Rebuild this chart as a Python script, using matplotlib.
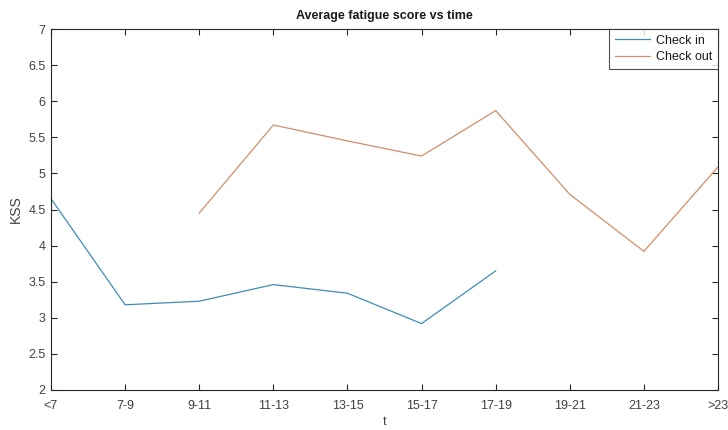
import matplotlib
matplotlib.use("Agg")
import matplotlib.pyplot as plt
import numpy as np

plt.rcParams['font.family'] = ['Liberation Sans', 'DejaVu Sans']

categories = ['<7', '7-9', '9-11', '11-13', '13-15', '15-17', '17-19', '19-21', '21-23', '>23']
check_in = [4.65, 3.18, 3.23, 3.46, 3.34, 2.92, 3.65, None, None, None]
check_out = [None, None, 4.45, 5.67, 5.45, 5.24, 5.87, 4.71, 3.92, 5.09]
yticks = [2, 2.5, 3, 3.5, 4, 4.5, 5, 5.5, 6, 6.5, 7]

def to_arr(v):
    return np.array([np.nan if x is None else x for x in v], dtype=float)

fig = plt.figure(figsize=(7.28, 4.30), dpi=100)
ax = fig.add_axes([51/728, 40/430, 667/728, 361/430])

x = np.arange(len(categories))
ax.plot(x, to_arr(check_in), color='#3f8db5', lw=0.9, label='Check in')
ax.plot(x, to_arr(check_out), color='#cf8f6c', lw=0.9, label='Check out')

ax.set_xlim(0, len(categories) - 1)
ax.set_ylim(2, 7)
ax.set_xticks(x)
ax.set_xticklabels(categories)
ax.set_yticks(yticks)
ax.set_yticklabels([f'{t:g}' for t in yticks])

tc = '#404040'
ax.tick_params(direction='in', length=4, width=0.8, top=True, right=True,
               labelsize=9, colors='#262626', labelcolor=tc, pad=3)
ax.tick_params(axis='x', pad=7)
ax.tick_params(axis='y', pad=4)
for s in ax.spines.values():
    s.set_color('#262626')
    s.set_linewidth(0.8)

ax.set_title('Average fatigue score vs time', fontsize=9, fontweight='bold', color='#1a1a1a', pad=7)
ax.set_xlabel('t', fontsize=9, color=tc, labelpad=3)
ax.set_ylabel('KSS', fontsize=10, color=tc, labelpad=4)

leg = ax.legend(loc='upper right', fontsize=9, frameon=True, fancybox=False,
                borderaxespad=0.0, handlelength=2.8, handletextpad=0.5,
                borderpad=0.45, labelspacing=0.35)
leg.get_frame().set_edgecolor('#262626')
leg.get_frame().set_linewidth(0.8)
for t in leg.get_texts():
    t.set_color('#1a1a1a')

fig.savefig('out.png', dpi=100)
